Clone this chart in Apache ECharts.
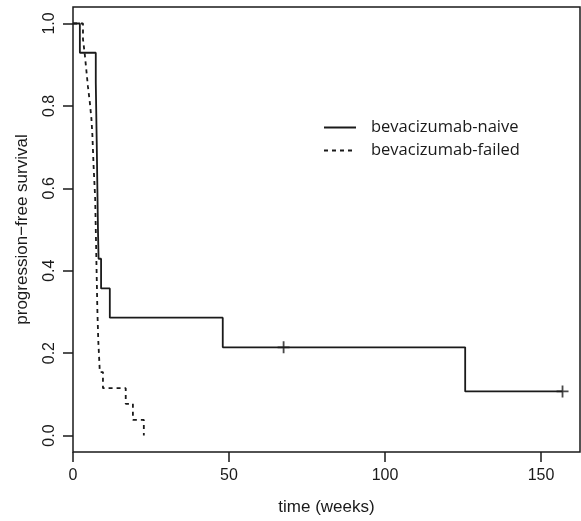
<!DOCTYPE html>
<html>
<head>
<meta charset="utf-8">
<script src="https://cdn.jsdelivr.net/npm/echarts@6/dist/echarts.min.js"></script>
<style>html,body{margin:0;padding:0;background:#fff}#c{width:581px;height:521px}</style>
</head>
<body>
<div id="c"></div>
<script>
// Kaplan-Meier step data
const naiveTime = [0, 2.2, 7.3, 7.6, 8.0, 8.2, 9.0, 11.8, 48.0, 125.7, 156.9];
const naiveSurv = [1, 0.929, 0.857, 0.714, 0.500, 0.429, 0.357, 0.286, 0.214, 0.107, 0.107];
const naiveCensorTime = [67.5, 156.9];
const naiveCensorSurv = [0.214, 0.107];

const failedTime = [0, 3.2, 3.8, 4.3, 4.8, 5.4, 5.9, 6.2, 6.6, 7.1, 7.4, 7.8, 8.1, 8.6, 9.6, 16.9, 19.2, 22.7];
const failedSurv = [1, 0.962, 0.923, 0.885, 0.846, 0.808, 0.769, 0.731, 0.654, 0.577, 0.462, 0.308, 0.231, 0.154, 0.115, 0.077, 0.038, 0];

const xTicks = [0, 50, 100, 150];
const yTicks = [0, 0.2, 0.4, 0.6, 0.8, 1.0];

const seriesNames = ['bevacizumab-naive', 'bevacizumab-failed'];

const ink = '#1a1a1a';
const zip = (a, b) => a.map((v, i) => [v, b[i]]);

const chart = echarts.init(document.getElementById('c'));
chart.setOption({
  animation: false,
  backgroundColor: '#fff',
  grid: {left: 73, right: 1, top: 7, bottom: 68, show: true, borderColor: ink, borderWidth: 1.5, backgroundColor: 'transparent'},
  legend: {
    orient: 'vertical', left: 323, top: 119, padding: 0,
    data: seriesNames,
    itemWidth: 32, itemHeight: 14, itemGap: 6,
    itemStyle: {opacity: 0},
    textStyle: {fontFamily: 'Open Sans', fontSize: 16.5, color: ink, padding: [0, 0, 0, 10]}
  },
  xAxis: {
    type: 'value', min: 0, max: 162.5,
    name: 'time (weeks)', nameLocation: 'middle', nameGap: 47,
    nameTextStyle: {fontFamily: 'Liberation Sans', fontSize: 17, color: ink},
    axisLine: {show: false, onZero: false},
    axisTick: {show: true, inside: false, length: 10, lineStyle: {color: ink, width: 1.5}, customValues: xTicks},
    axisLabel: {fontFamily: 'Liberation Sans', fontSize: 16, color: ink, margin: 16, customValues: xTicks},
    splitLine: {show: false}
  },
  yAxis: {
    type: 'value', min: -0.04, max: 1.04,
    name: 'progression\u2212free survival', nameLocation: 'middle', nameGap: 42, nameRotate: 90,
    nameTextStyle: {fontFamily: 'Liberation Sans', fontSize: 17, color: ink},
    axisLine: {show: false, onZero: false},
    axisTick: {show: true, inside: false, length: 10, lineStyle: {color: ink, width: 1.5}, customValues: yTicks},
    axisLabel: {fontFamily: 'Liberation Sans', fontSize: 16, color: ink, margin: 15, rotate: 90,
      customValues: yTicks, formatter: v => Number(v).toFixed(1)},
    splitLine: {show: false}
  },
  series: [
    {name: seriesNames[0], type: 'line', step: 'end', symbol: 'none', data: zip(naiveTime, naiveSurv),
      lineStyle: {color: ink, width: 1.8, type: 'solid'}, itemStyle: {color: ink}},
    {name: seriesNames[1], type: 'line', step: 'end', symbol: 'none', data: zip(failedTime, failedSurv),
      lineStyle: {color: ink, width: 1.8, type: [4, 4]}, itemStyle: {color: ink}},
    {name: 'censor', type: 'scatter', data: zip(naiveCensorTime, naiveCensorSurv),
      symbol: 'path://M0,-1L0,1M-1,0L1,0', symbolSize: 12,
      itemStyle: {color: 'transparent', borderColor: ink, borderWidth: 1.8}}
  ]
});
</script>
</body>
</html>
